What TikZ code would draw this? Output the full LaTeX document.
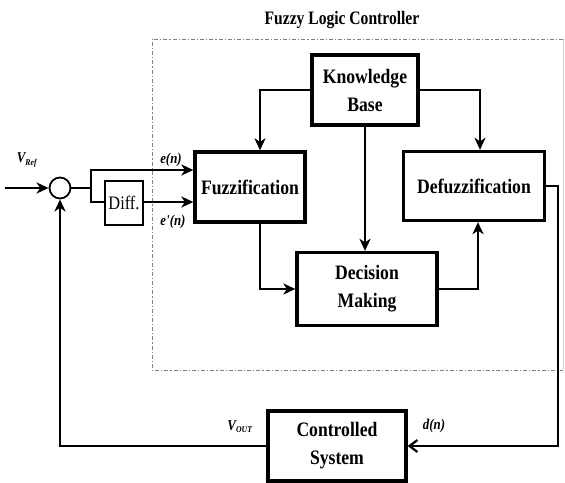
\documentclass[tikz,border=0pt]{standalone}
\usepackage{fontspec}
\setmainfont{Liberation Serif}
\newfontfamily\condfont[FakeStretch=0.86]{Liberation Serif}
\newfontfamily\titlefont[FakeStretch=0.82]{Liberation Serif}
\usetikzlibrary{arrows.meta}
\begin{document}
\begin{tikzpicture}[x=1pt,y=-1pt,
  blk/.style={draw,line width=3.3pt,inner sep=0pt,font=\condfont\bfseries\fontsize{20.5}{28}\selectfont,align=center},
  ln/.style={line width=2.8pt},
  arr/.style={ln,-{Stealth[length=12pt,width=11pt,inset=3.5pt]}},
  lbl/.style={font=\condfont\bfseries\itshape\fontsize{15}{16}\selectfont}]
\useasboundingbox (0,0) rectangle (565,482);
\node[font=\titlefont\bfseries\fontsize{19}{21}\selectfont] (title) at (342,20) {Fuzzy Logic Controller};
\draw[line width=1pt,gray,dash pattern=on 4pt off 2pt on 1.2pt off 2pt] (563,39) -- (152,39) -- (152,370) -- (563,370);
\draw[line width=0.6pt,gray!40] (563,39) -- (563,370);
\node[blk,minimum width=106pt,minimum height=70pt] (kb) at (365,90) {Knowledge\\Base};
\node[blk,minimum width=110pt,minimum height=70pt] (fz) at (250,187) {Fuzzification};
\node[blk,minimum width=141pt,minimum height=69pt] (dfz) at (474,186) {Defuzzification};
\node[blk,minimum width=140pt,minimum height=73pt] (dm) at (367,289) {Decision\\Making};
\node[blk,minimum width=138pt,minimum height=70pt] (cs) at (337,446) {Controlled\\System};
\node[draw,line width=2.4pt,minimum width=38pt,minimum height=44pt,inner sep=0pt,font=\condfont\fontsize{19}{21}\selectfont] (diff) at (124,203) {Diff.};
\node[draw,line width=1.8pt,circle,minimum size=21pt,inner sep=0pt] (sum) at (60,188) {};
\coordinate (in) at (5,188);
\coordinate (j) at (91,188);
\draw[arr] (in) -- (sum);
\draw[ln] (sum) -- (j);
\draw[arr] (j) |- (fz.west |- 0,170);
\draw[ln] (j) |- (diff.west |- 0,202);
\draw[arr] (diff.east |- 0,202) -- (fz.west |- 0,202);
\draw[arr] (kb.west) -| (fz.north -| 260,0);
\draw[arr] (kb.east) -| (dfz.north -| 480,0);
\draw[arr] (kb.south) -- (dm.north -| kb.south);
\draw[arr] (fz.south -| 260,0) |- (dm.west);
\draw[arr] (dm.east) -| (dfz.south -| 478,0);
\coordinate (r) at (558,186);
\draw[ln,line width=2.2pt,-{Straight Barb[length=8pt,width=12pt,line width=2.2pt]}] (dfz.east) -- (r) |- (cs.east);
\draw[ln,line width=2.2pt] (cs.west) -| (60,215);
\draw[arr,line width=2.2pt] (60,215) -- (sum.south);
\node[lbl] (vref) at (27,160) {V\textsubscript{\small Ref}};
\node[lbl] (en) at (171,160) {e(n)};
\node[lbl] (epn) at (173,222) {e'(n)};
\node[lbl] (vout) at (240,427) {V\textsubscript{\small OUT}};
\node[lbl] (dn) at (434,426) {d(n)};
\end{tikzpicture}
\end{document}
